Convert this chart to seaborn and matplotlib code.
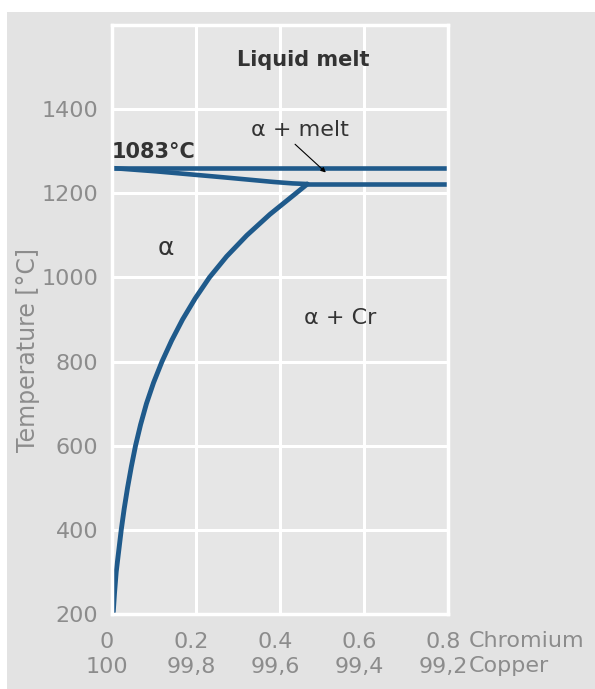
import matplotlib
matplotlib.use('Agg')
import matplotlib.pyplot as plt
from matplotlib.patches import Rectangle
from matplotlib.transforms import ScaledTranslation
import seaborn as sns

# chromium content [%] and temperature [C]
liquidus_cr=[0.0, 0.8]
liquidus_t=[1260, 1260]

solidus_cr=[0.0, 0.107, 0.265, 0.384, 0.43, 0.465]
solidus_t=[1260, 1252, 1238, 1227, 1223.5, 1222]

eutectic_cr=[0.465, 0.8]
eutectic_t=[1222, 1222]

solvus_cr=[0.003, 0.006, 0.010, 0.016, 0.022, 0.029, 0.037, 0.046, 0.056, 0.068, 0.082,
		   0.099, 0.119, 0.142, 0.168, 0.198, 0.232, 0.273, 0.321, 0.376, 0.438, 0.465]
solvus_t=[205, 250, 300, 350, 400, 450, 500, 550, 600, 650, 700,
		  750, 800, 850, 900, 950, 1000, 1050, 1100, 1150, 1200, 1222]

x_ticks=[0, 0.2, 0.4, 0.6, 0.8]
cr_labels=['0', '0.2', '0.4', '0.6', '0.8']
cu_labels=['100', '99,8', '99,6', '99,4', '99,2']
y_ticks=[200, 400, 600, 800, 1000, 1200, 1400]

line_col='#1f5a8b'
grey='#e3e3e3'
tick_col='#8c8c8c'
text_col='#333333'

sns.set_theme(style='darkgrid', rc={'axes.facecolor':'#e6e6e6',
									'grid.color':'white',
									'grid.linewidth':2.2,
									'axes.edgecolor':'white',
									'axes.linewidth':2.5})
plt.rcParams['font.family']=['DejaVu Sans']

fig=plt.figure(figsize=(5.95,6.89), dpi=100)
fig.patch.set_facecolor('white')
fig.add_artist(Rectangle((7/595, 0), 1, 1-12/689, transform=fig.transFigure, facecolor=grey, edgecolor='none', zorder=-5))

ax=fig.add_axes([112/595, 75/689, 336/595, 589/689])

sns.lineplot(x=liquidus_cr, y=liquidus_t, ax=ax, color=line_col, lw=3.3, sort=False)
sns.lineplot(x=solidus_cr, y=solidus_t, ax=ax, color=line_col, lw=3.3, sort=False)
sns.lineplot(x=eutectic_cr, y=eutectic_t, ax=ax, color=line_col, lw=3.3, sort=False)
sns.lineplot(x=solvus_cr, y=solvus_t, ax=ax, color=line_col, lw=3.5, sort=False)
for line in ax.lines:
	line.set_solid_joinstyle('round')
	line.set_solid_capstyle('round')

ax.set_xlim(0, 0.8)
ax.set_ylim(200, 1600)
ax.set_yticks([200, 400, 600, 800, 1000, 1200, 1400, 1600])
ax.set_yticklabels([str(t) for t in y_ticks]+[''])
ax.set_xticks(x_ticks)
ax.set_xticklabels([a+'\n'+b for a, b in zip(cr_labels, cu_labels)], linespacing=1.3)
ax.tick_params(axis='both', labelsize=16, labelcolor=tick_col, length=0)
ax.tick_params(axis='y', pad=10)
ax.tick_params(axis='x', pad=13)
shift=ScaledTranslation(-5/100, 0, fig.dpi_scale_trans)
for lab in ax.get_xticklabels():
	lab.set_transform(lab.get_transform()+shift)
for spine in ax.spines.values():
	spine.set_visible(True)

fig.text(28/595, 1-350/689, 'Temperature [°C]', rotation=90, ha='center', va='center', fontsize=17, color=tick_col)
fig.text(469/595, 1-641/689, 'Chromium', ha='left', va='center', fontsize=16, color=tick_col)
fig.text(469/595, 1-666/689, 'Copper', ha='left', va='center', fontsize=16, color=tick_col)

ax.text(0.455, 1516, 'Liquid melt', ha='center', va='center', fontsize=15, fontweight='bold', color=text_col)
ax.text(0.448, 1350, 'α + melt', ha='center', va='center', fontsize=16, color=text_col)
ax.text(0.0, 1297, '1083°C', ha='left', va='center', fontsize=15, fontweight='bold', color=text_col)
ax.text(0.129, 1069, 'α', ha='center', va='center', fontsize=18, color=text_col)
ax.text(0.543, 903, 'α + Cr', ha='center', va='center', fontsize=16, color=text_col)
ax.annotate('', xy=(0.514, 1245), xytext=(0.431, 1321),
			arrowprops=dict(arrowstyle='-|>', color='black', lw=0.8, mutation_scale=7))

fig.savefig('out.png', dpi=100)
